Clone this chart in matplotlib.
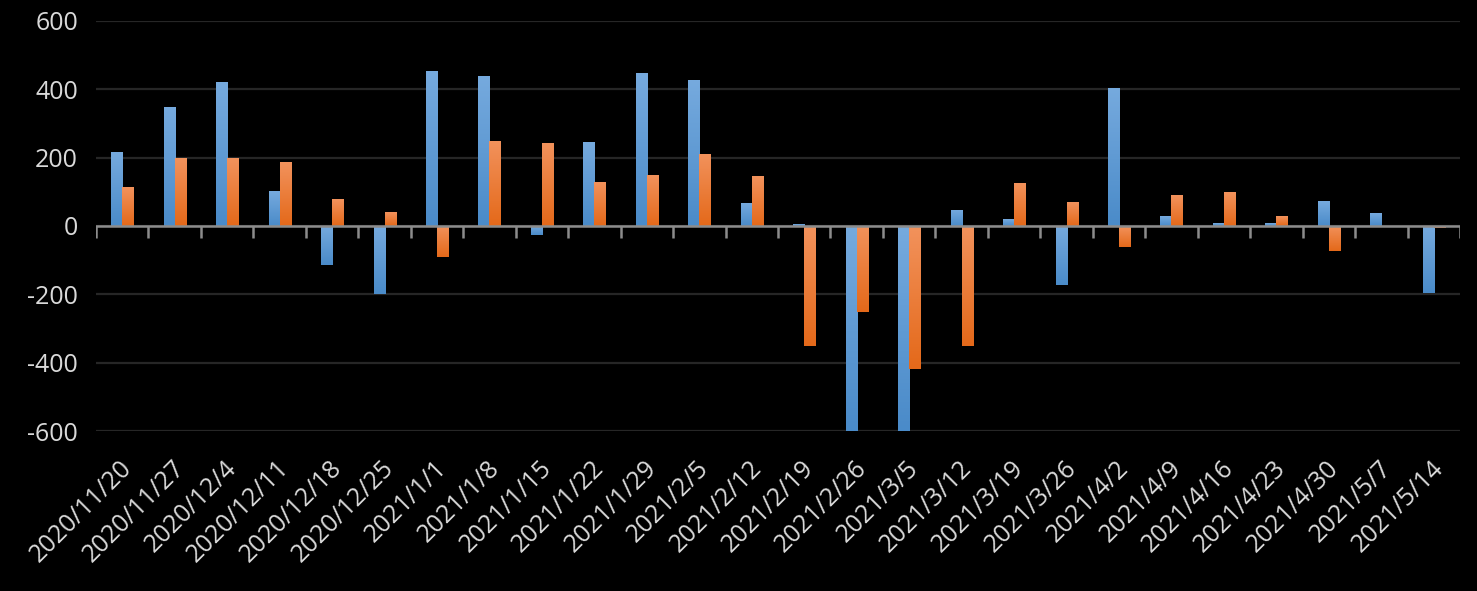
import numpy as np
import matplotlib
matplotlib.use("Agg")
import matplotlib.pyplot as plt
from matplotlib.colors import LinearSegmentedColormap
import matplotlib.transforms as mtransforms

dates = ["2020/11/20", "2020/11/27", "2020/12/4", "2020/12/11", "2020/12/18",
         "2020/12/25", "2021/1/1", "2021/1/8", "2021/1/15", "2021/1/22",
         "2021/1/29", "2021/2/5", "2021/2/12", "2021/2/19", "2021/2/26",
         "2021/3/5", "2021/3/12", "2021/3/19", "2021/3/26", "2021/4/2",
         "2021/4/9", "2021/4/16", "2021/4/23", "2021/4/30", "2021/5/7",
         "2021/5/14"]
blue_vals = [217, 348, 421, 102, -115, -200, 454, 439, -27, 246,
             448, 427, 67, 5, -620, -620, 47, 20, -173, 404,
             28, 8, 8, 72, 37, -197]
orange_vals = [114, 199, 199, 187, 79, 40, -92, 249, 243, 129,
               149, 211, 146, -350, -252, -418, -350, 126, 70, -61,
               90, 99, 28, -74, 0, -6]
y_ticks = [-600, -400, -200, 0, 200, 400, 600]

plt.rcParams['font.family'] = ['Open Sans', 'DejaVu Sans']
text_col = '#d9d9d9'

fig = plt.figure(figsize=(14.77, 5.91), dpi=100, facecolor='black')
ax = fig.add_axes([0.065, 0.2707, 0.9235, 0.6938])
ax.set_facecolor('black')

x = np.arange(len(dates))
w = 0.21
blue_bars = ax.bar(x - w / 2, blue_vals, w, color='#5b9bd5', zorder=3)
orange_bars = ax.bar(x + w / 2, orange_vals, w, color='#ed7d31', zorder=3)

ymin, ymax = -600, 600
ax.set_xlim(-0.5, len(dates) - 0.5)
ax.set_ylim(ymin, ymax)

# excel style vertical gradient on each bar
grad = np.linspace(0, 1, 64).reshape(-1, 1)
cmaps = {
    'b': LinearSegmentedColormap.from_list('b', ['#76aade', '#4a8bc9']),
    'o': LinearSegmentedColormap.from_list('o', ['#f2925c', '#e4691a']),
}
for bars, key in [(blue_bars, 'b'), (orange_bars, 'o')]:
    for bar in bars:
        bx, by = bar.get_x(), bar.get_y()
        bw, bh = bar.get_width(), bar.get_height()
        if bh == 0:
            continue
        top, bot = max(by, by + bh), min(by, by + bh)
        top, bot = min(top, ymax), max(bot, ymin)
        im = ax.imshow(grad, cmap=cmaps[key], aspect='auto', origin='upper',
                       extent=(bx, bx + bw, bot, top), zorder=4)
        im.set_clip_path(bar)
ax.set_xlim(-0.5, len(dates) - 0.5)
ax.set_ylim(ymin, ymax)

ax.set_yticks(y_ticks)
ax.set_yticklabels([str(v) for v in y_ticks])
ax.grid(axis='y', color='#262626', linewidth=1.6, zorder=0)
ax.axhline(0, color='#8c8c8c', linewidth=1.8, zorder=5)

# category separators below the zero line
bounds = np.arange(len(dates) + 1) - 0.5
ax.vlines(bounds, -36, 0, color='#8c8c8c', linewidth=1.8, zorder=5)

for s in ax.spines.values():
    s.set_visible(False)

ax.tick_params(axis='y', length=0, pad=13, labelsize=18, labelcolor=text_col)
ax.tick_params(axis='x', length=0, pad=24, labelsize=18, labelcolor=text_col)
ax.set_xticks(x)
ax.set_xticklabels(dates, rotation=45, ha='right', va='center',
                   rotation_mode='anchor')
offset = mtransforms.ScaledTranslation(6 / 100, 0, fig.dpi_scale_trans)
for lab in ax.get_xticklabels():
    lab.set_transform(lab.get_transform() + offset)

fig.savefig('out.png', dpi=100, facecolor='black')
